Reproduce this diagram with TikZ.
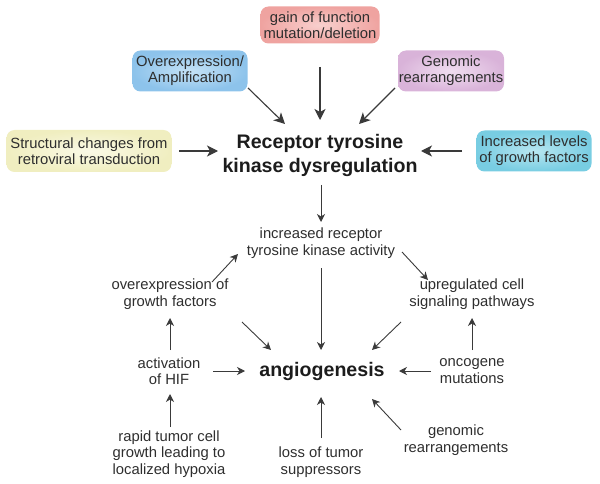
\documentclass[tikz,border=0pt]{standalone}
\usepackage{fontspec}
\setmainfont{Liberation Sans}
\usetikzlibrary{arrows.meta}
\definecolor{txt}{HTML}{2E2E2E}
\definecolor{ttl}{HTML}{1C1C1C}
\definecolor{arrc}{HTML}{3A3A3A}
\tikzset{
  box/.style={shade, rounded corners=8pt, inner sep=0pt, align=center, text=txt,
    font=\fontsize{14.8}{16}\selectfont},
  lbl/.style={inner sep=0pt, align=center, text=txt, font=\fontsize{14.8}{16.5}\selectfont},
  ttlnode/.style={inner sep=0pt, align=center, text=ttl, font=\fontsize{19.6}{24}\selectfont\bfseries},
  bigarr/.style={draw=arrc, line width=1.1pt, -{Stealth[length=11pt,width=11pt,inset=3pt]}},
  arr/.style={draw=arrc, line width=0.9pt, -{Stealth[length=8pt,width=8pt,inset=2.5pt]}}
}
\begin{document}
\begin{tikzpicture}[x=1pt,y=-1pt]
\useasboundingbox (0,0) rectangle (600,484);
% boxes
\node[box, minimum width=119pt, minimum height=37pt, inner color={rgb,255:red,248;green,208;blue,206}, outer color={rgb,255:red,239;green,163;blue,160}] (gain) at (320,25) {gain of function\\mutation/deletion};
\node[box, minimum width=115pt, minimum height=41pt, inner color={rgb,255:red,197;green,226;blue,246}, outer color={rgb,255:red,141;green,195;blue,235}] (over) at (190,71) {Overexpression/\\Amplification};
\node[box, minimum width=106pt, minimum height=41pt, inner color={rgb,255:red,240;green,221;blue,240}, outer color={rgb,255:red,217;green,179;blue,217}] (gbox) at (451,71) {Genomic\\rearrangements};
\node[box, minimum width=165pt, minimum height=42pt, inner color={rgb,255:red,250;green,249;blue,230}, outer color={rgb,255:red,240;green,238;blue,192}] (struct) at (89,151) {Structural changes from\\retroviral transduction};
\node[box, minimum width=115pt, minimum height=41pt, inner color={rgb,255:red,184;green,230;blue,241}, outer color={rgb,255:red,120;green,205;blue,226}] (incr) at (534,151) {Increased levels\\of growth factors};
% titles
\node[ttlnode] (title) at (320,155) {Receptor tyrosine\\kinase dysregulation};
\node[ttlnode] (angio) at (322,371) {angiogenesis};
% labels
\node[lbl] (irtk) at (321,243) {increased receptor\\tyrosine kinase activity};
\node[lbl] (ogf) at (170,294) {overexpression of\\growth factors};
\node[lbl] (upreg) at (472,294) {upregulated cell\\signaling pathways};
\node[lbl] (hif) at (169,371) {activation\\of HIF};
\node[lbl] (onco) at (472,371) {oncogene\\mutations};
\node[lbl] (rapid) at (169,454) {rapid tumor cell\\growth leading to\\localized hypoxia};
\node[lbl] (loss) at (321,462) {loss of tumor\\suppressors};
\node[lbl] (genr) at (456,440) {genomic\\rearrangements};
% top arrows
\draw[bigarr] ([shift={(0,42)}]gain.center) -- ([shift={(0,-35)}]title.center);
\draw[bigarr] ([shift={(58,17)}]over.center) -- ([shift={(-35,-31)}]title.center);
\draw[bigarr] ([shift={(-56,17)}]gbox.center) -- ([shift={(39,-31)}]title.center);
\draw[bigarr] ([shift={(90,0)}]struct.center) -- ([shift={(-102,-4)}]title.center);
\draw[bigarr] ([shift={(-72,0)}]incr.center) -- ([shift={(101,-4)}]title.center);
% lower arrows
\draw[arr] ([shift={(1,30)}]title.center) -- ([shift={(0,-21)}]irtk.center);
\draw[arr] ([shift={(81,9)}]irtk.center) -- ([shift={(-44,-14)}]upreg.center);
\draw[arr] ([shift={(42,-12)}]ogf.center) -- ([shift={(-83,11)}]irtk.center);
\draw[arr] ([shift={(0,25)}]irtk.center) -- ([shift={(-1,-21)}]angio.center);
\draw[arr] ([shift={(72,28)}]ogf.center) -- ([shift={(-51,-21)}]angio.center);
\draw[arr] ([shift={(-71,28)}]upreg.center) -- ([shift={(50,-21)}]angio.center);
\draw[arr] ([shift={(1,-21)}]hif.center) -- ([shift={(0,24)}]ogf.center);
\draw[arr] ([shift={(0,-21)}]onco.center) -- ([shift={(0,24)}]upreg.center);
\draw[arr] ([shift={(44,0)}]hif.center) -- ([shift={(-77,0)}]angio.center);
\draw[arr] ([shift={(-41,0)}]onco.center) -- ([shift={(77,0)}]angio.center);
\draw[arr] ([shift={(1,-27)}]rapid.center) -- ([shift={(1,23)}]hif.center);
\draw[arr] ([shift={(0,-24)}]loss.center) -- ([shift={(-1,26)}]angio.center);
\draw[arr] ([shift={(-55,-10)}]genr.center) -- ([shift={(50,28)}]angio.center);
\end{tikzpicture}
\end{document}
